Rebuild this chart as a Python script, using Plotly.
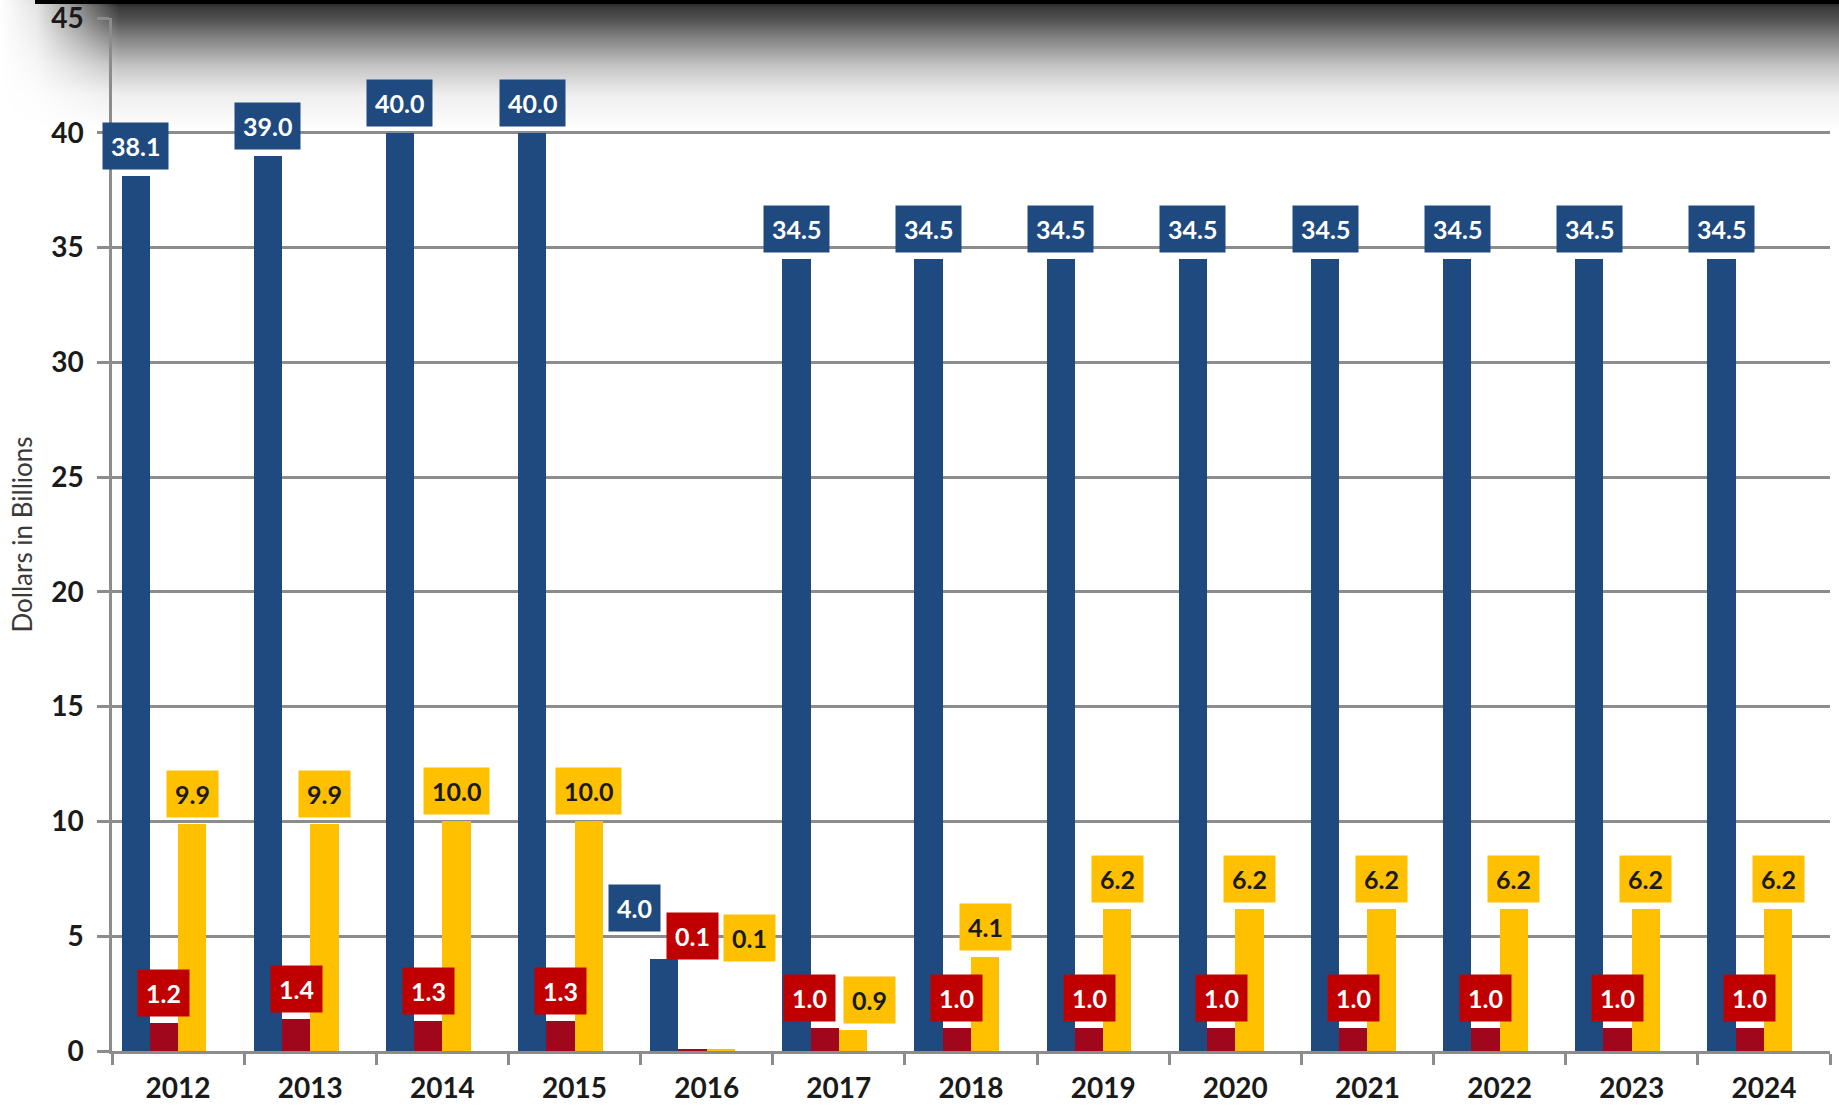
import base64
import plotly.graph_objects as go

years = ["2012", "2013", "2014", "2015", "2016", "2017", "2018",
         "2019", "2020", "2021", "2022", "2023", "2024"]
blue_vals = [38.1, 39.0, 40.0, 40.0, 4.0, 34.5, 34.5, 34.5, 34.5, 34.5, 34.5, 34.5, 34.5]
red_vals = [1.2, 1.4, 1.3, 1.3, 0.1, 1.0, 1.0, 1.0, 1.0, 1.0, 1.0, 1.0, 1.0]
yellow_vals = [9.9, 9.9, 10.0, 10.0, 0.1, 0.9, 4.1, 6.2, 6.2, 6.2, 6.2, 6.2, 6.2]
y_ticks = [0, 5, 10, 15, 20, 25, 30, 35, 40, 45]

W, H = 1839, 1107
ML, MR, MT, MB = 112, 9, 18, 56
PW, PH = W - ML - MR, H - MT - MB

BLUE = "#1F4A80"
RED_BAR = "#A0061C"
RED_LBL = "#C00000"
YEL = "#FFC000"
GRID = "#8C8C8C"
FONT = "Lato"

BW = 0.214
series = [
    (blue_vals, BLUE, BLUE, "white", -1.5),
    (red_vals, RED_BAR, RED_LBL, "white", -0.5),
    (yellow_vals, YEL, YEL, "#1a1a1a", 0.5),
]

# label nudges in px (dx, extra dy) for crowded groups: key (series idx, year idx)
nudge = {
    (0, 4): (-30, 21),
    (1, 4): (0, 83),
    (2, 4): (29, 81),
    (1, 5): (-15, 0),
    (2, 5): (17, 0),
}

fig = go.Figure()
annotations = []
for si, (vals, bcol, lcol, tcol, pos) in enumerate(series):
    fig.add_trace(go.Bar(
        x=list(range(len(years))), y=vals,
        width=BW, offset=(pos - 0.5) * BW,
        marker=dict(color=bcol, line=dict(width=0)),
        showlegend=False, hoverinfo="y",
    ))
    for i, v in enumerate(vals):
        dx, dy = nudge.get((si, i), (0, 0))
        annotations.append(dict(
            x=i + pos * BW, y=v, xref="x", yref="y",
            text=f"{v:.1f}", showarrow=False,
            xanchor="center", yanchor="middle",
            xshift=dx, yshift=30 + dy,
            bgcolor=lcol, borderpad=8,
            font=dict(family=FONT, size=25, color=tcol, weight="bold"),
        ))

# decorative top shadow as an SVG gradient image
SH = 130
svg = f'''<svg xmlns="http://www.w3.org/2000/svg" width="{W}" height="{SH}" viewBox="0 0 {W} {SH}" preserveAspectRatio="none">
<defs>
<linearGradient id="v" x1="0" y1="0" x2="0" y2="1">
<stop offset="0" stop-color="#000" stop-opacity="0.95"/>
<stop offset="0.05" stop-color="#000" stop-opacity="0.78"/>
<stop offset="0.15" stop-color="#000" stop-opacity="0.68"/>
<stop offset="0.3" stop-color="#000" stop-opacity="0.48"/>
<stop offset="0.5" stop-color="#000" stop-opacity="0.24"/>
<stop offset="0.72" stop-color="#000" stop-opacity="0.07"/>
<stop offset="1" stop-color="#000" stop-opacity="0"/>
</linearGradient>
<linearGradient id="h" x1="0" y1="0" x2="1" y2="0">
<stop offset="0" stop-color="#000"/>
<stop offset="0.02" stop-color="#222"/>
<stop offset="0.065" stop-color="#fff"/>
<stop offset="1" stop-color="#fff"/>
</linearGradient>
<mask id="m"><rect width="{W}" height="{SH}" fill="url(#h)"/></mask>
</defs>
<rect width="{W}" height="{SH}" fill="url(#v)" mask="url(#m)"/>
<rect x="35" y="0" width="{W - 35}" height="4" fill="#000"/>
</svg>'''
src = "data:image/svg+xml;base64," + base64.b64encode(svg.encode()).decode()

fig.update_layout(
    width=W, height=H,
    margin=dict(l=ML, r=MR, t=MT, b=MB, autoexpand=False),
    paper_bgcolor="white", plot_bgcolor="rgba(0,0,0,0)",
    barmode="overlay", bargap=0,
    annotations=annotations,
    images=[dict(
        source=src, xref="paper", yref="paper",
        x=-ML / PW, y=1 + MT / PH,
        sizex=W / PW, sizey=SH / PH,
        xanchor="left", yanchor="top", sizing="stretch", layer="below",
    )],
    xaxis=dict(
        range=[-0.5, len(years) - 0.5], automargin=False,
        tickvals=list(range(len(years))), ticktext=years,
        showgrid=False, zeroline=False,
        showline=True, linecolor=GRID, linewidth=2.5,
        ticks="",
        tickfont=dict(family=FONT, size=28, color="#1a1a1a", weight="bold"),
        ticklabelstandoff=11, ticklabeloverflow="allow",
        minor=dict(tickvals=[i - 0.5 for i in range(len(years) + 1)],
                   ticks="outside", ticklen=11, tickcolor=GRID, tickwidth=2.5),
    ),
    yaxis=dict(
        range=[0, 45], tickvals=y_ticks, automargin=False,
        showgrid=True, gridcolor=GRID, gridwidth=2.5,
        zeroline=False,
        showline=True, linecolor=GRID, linewidth=2.5,
        ticks="outside", ticklen=12, tickcolor=GRID, tickwidth=2.5,
        tickfont=dict(family=FONT, size=28, color="#1a1a1a", weight="bold"),
        ticklabelstandoff=8, ticklabeloverflow="allow",
        title=dict(text="Dollars in Billions", standoff=12,
                   font=dict(family=FONT, size=26, color="#3a3a3a")),
    ),
)

fig.write_html("out.html", config={"displayModeBar": False},
               post_script="document.body.style.margin='0';")
